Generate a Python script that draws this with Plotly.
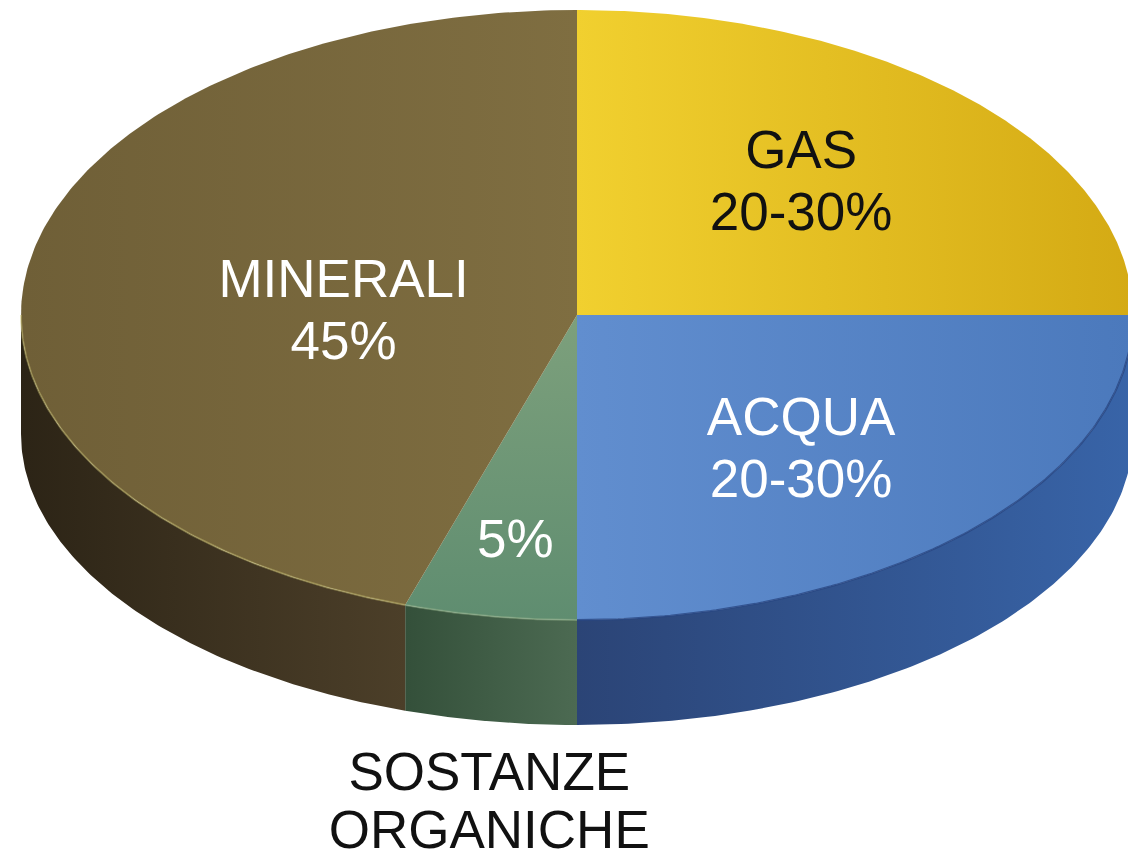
import numpy as np
import plotly.graph_objects as go

# Soil composition (percent of volume)
categories = ["GAS", "ACQUA", "SOSTANZE ORGANICHE", "MINERALI"]
values = [25, 25, 5, 45]
value_labels = ["20-30%", "20-30%", "5%", "45%"]

# Styling for each slice: top face gradient, side wall gradient, rim, text colour
top_fill = [("#f1d02f", "#d4aa14"), ("#618ecf", "#4b79bc"),
            ("#5f8d70", "#7da07c"), ("#6f5f37", "#7f6e41")]
side_fill = [("#b08a10", "#8a6c0c"), ("#2b4476", "#3864a8"),
             ("#34503a", "#4c6a52"), ("#2c2416", "#4c3f29")]
rim_color = ["rgba(0,0,0,0)", "rgba(40,70,130,0.8)",
             "rgba(150,180,140,0.5)", "rgba(200,190,110,0.45)"]
text_color = ["#111111", "white", "white", "white"]
# label anchor as fractions of the radii along the slice bisector
label_fx = [0.57, 0.57, 0.71, 0.425]
label_fy = [0.60, 0.64, 0.76, 0.0]
fill_axis = ["horizontal", "horizontal", "vertical", "horizontal"]

W, H = 1128, 859
CX, CY, RX, RY = 577, 315, 556, 305          # top ellipse
CY2, RY2 = 434, 291                           # bottom rim ellipse
FONT = "Liberation Sans, Arial, sans-serif"
FSIZE = 53


def top_pt(theta_deg, fx=1.0, fy=1.0):
    t = np.radians(theta_deg)
    return CX + fx * RX * np.sin(t), CY - fy * RY * np.cos(t)


def bot_pt(theta_deg):
    t = np.radians(theta_deg)
    return CX + RX * np.sin(t), CY2 - RY2 * np.cos(t)


fig = go.Figure()

# cumulative angles, clockwise from 12 o'clock
total = float(sum(values))
edges = np.concatenate([[0.0], np.cumsum(values) / total * 360.0])

# visible side walls (front half of the disc: 90..270 deg)
for i in range(len(values)):
    a, b = max(edges[i], 90.0), min(edges[i + 1], 270.0)
    if b <= a:
        continue
    th = np.linspace(a, b, 120)
    xt, yt = top_pt(th)
    xb, yb = bot_pt(th[::-1])
    xs = np.concatenate([xt, xb, xt[:1]])
    ys = np.concatenate([yt, yb, yt[:1]])
    fig.add_trace(go.Scatter(
        x=xs, y=ys, mode="lines", fill="toself", line=dict(width=0),
        fillgradient=dict(type="horizontal",
                          colorscale=[[0, side_fill[i][0]], [1, side_fill[i][1]]]),
        hoverinfo="skip", showlegend=False))

# top faces
for i in range(len(values)):
    th = np.linspace(edges[i], edges[i + 1], 240)
    xa, ya = top_pt(th)
    xs = np.concatenate([[CX], xa, [CX]])
    ys = np.concatenate([[CY], ya, [CY]])
    fig.add_trace(go.Scatter(
        x=xs, y=ys, mode="lines", fill="toself", line=dict(width=0),
        fillgradient=dict(type=fill_axis[i],
                          colorscale=[[0, top_fill[i][0]], [1, top_fill[i][1]]]),
        name=categories[i], hoverinfo="name", showlegend=False))

# thin rim along the front edge of each top face
for i in range(len(values)):
    a, b = max(edges[i], 90.0), min(edges[i + 1], 270.0)
    if b <= a:
        continue
    th = np.linspace(a, b, 150)
    xr, yr = top_pt(th)
    fig.add_trace(go.Scatter(x=xr, y=yr, mode="lines",
                             line=dict(width=2, color=rim_color[i]),
                             hoverinfo="skip", showlegend=False))

# slice labels
LINE = 31
for i in range(len(values)):
    mid = (edges[i] + edges[i + 1]) / 2
    lx, ly = top_pt(mid, label_fx[i], label_fy[i])
    if values[i] < 10:
        # small slice: value inside, name below the disc
        fig.add_trace(go.Scatter(
            x=[lx], y=[ly], mode="text", text=[value_labels[i]],
            textposition="middle center",
            textfont=dict(family=FONT, size=FSIZE, color=text_color[i]),
            hoverinfo="skip", showlegend=False))
        words = categories[i].split(" ")
        nx = lx - 26
        fig.add_trace(go.Scatter(
            x=[nx] * len(words), y=[777 + 58 * k for k in range(len(words))],
            mode="text", text=words, textposition="middle center",
            textfont=dict(family=FONT, size=FSIZE, color="#111111"),
            hoverinfo="skip", showlegend=False))
    else:
        fig.add_trace(go.Scatter(
            x=[lx, lx], y=[ly - LINE, ly + LINE], mode="text",
            text=[categories[i], value_labels[i]], textposition="middle center",
            textfont=dict(family=FONT, size=FSIZE, color=text_color[i]),
            hoverinfo="skip", showlegend=False))

fig.update_layout(
    width=W, height=H, autosize=False,
    margin=dict(l=0, r=0, t=0, b=0),
    paper_bgcolor="white", plot_bgcolor="white",
    xaxis=dict(range=[0, W], visible=False, fixedrange=True),
    yaxis=dict(range=[H, 0], visible=False, fixedrange=True),
)

fig.write_html("out.html")
